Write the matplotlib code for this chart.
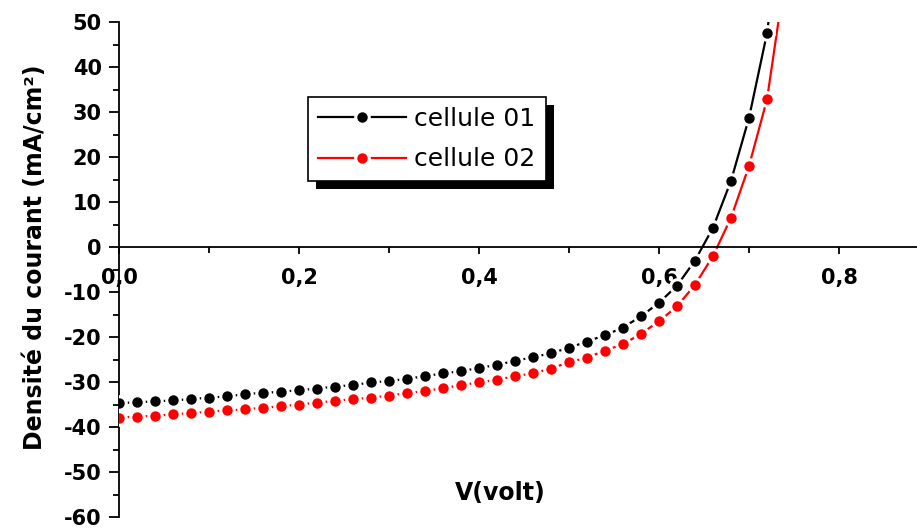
import matplotlib
matplotlib.use("Agg")
import matplotlib.pyplot as plt
from matplotlib.patches import Rectangle
from matplotlib.ticker import MultipleLocator, FuncFormatter

plt.rcParams["axes.unicode_minus"] = False

V = [0.00, 0.02, 0.04, 0.06, 0.08, 0.10, 0.12, 0.14, 0.16, 0.18,
     0.20, 0.22, 0.24, 0.26, 0.28, 0.30, 0.32, 0.34, 0.36, 0.38,
     0.40, 0.42, 0.44, 0.46, 0.48, 0.50, 0.52, 0.54, 0.56, 0.58,
     0.60, 0.62, 0.64, 0.66, 0.68, 0.70, 0.72]
J_cell01 = [-34.7, -34.5, -34.3, -34.1, -33.8, -33.5, -33.2, -32.7, -32.4, -32.2,
            -31.8, -31.5, -31.0, -30.7, -30.1, -29.8, -29.3, -28.7, -28.1, -27.6,
            -26.9, -26.2, -25.3, -24.5, -23.6, -22.4, -21.0, -19.6, -17.9, -15.4,
            -12.4, -8.6, -3.0, 4.3, 14.7, 28.7, 47.5]
J_cell02 = [-37.9, -37.7, -37.5, -37.2, -36.9, -36.6, -36.3, -36.1, -35.7, -35.4,
            -35.0, -34.6, -34.2, -33.8, -33.5, -33.0, -32.5, -32.0, -31.4, -30.7,
            -30.1, -29.5, -28.7, -28.1, -27.0, -25.6, -24.6, -23.0, -21.6, -19.3,
            -16.5, -13.2, -8.4, -2.0, 6.5, 18.0, 32.8]
# the fitted line keeps going past the last measured point
V_tail01 = [0.72, 0.726]
J_tail01 = [47.5, 57.0]
V_tail02 = [0.72, 0.74]
J_tail02 = [32.8, 60.0]

labels = ["cellule 01", "cellule 02"]
colors = ["#000000", "#ff0000"]

W, H = 917, 529
fig = plt.figure(figsize=(W / 100, H / 100), dpi=100)
ax = fig.add_axes([119 / W, 12 / H, (W - 119) / W, 495 / H])

handles = []
for vv, jj, vt, jt, c in [(V, J_cell01, V_tail01, J_tail01, colors[0]),
                          (V, J_cell02, V_tail02, J_tail02, colors[1])]:
    ax.plot(vv, jj, "-", color=c, lw=1.6, zorder=2)
    ax.plot(vt, jt, "-", color=c, lw=1.6, zorder=2)
    # white halo -> Origin-style gap of the line around each symbol
    halo, = ax.plot(vv, jj, "o", ms=12, mfc="white", mec="none", zorder=3)
    dots, = ax.plot(vv, jj, "o", ms=7.5, mfc=c, mec="none", zorder=4)
    line, = ax.plot([], [], "-", color=c, lw=1.6)
    handles.append((line, halo, dots))

ax.set_xlim(0, (W - 119) / 900)
ax.set_ylim(-60, 50)

for s in ["top", "right"]:
    ax.spines[s].set_visible(False)
ax.spines["bottom"].set_position(("data", 0))
ax.spines["left"].set_linewidth(1.3)
ax.spines["bottom"].set_linewidth(1.3)

ax.xaxis.set_major_locator(MultipleLocator(0.2))
ax.xaxis.set_minor_locator(MultipleLocator(0.1))
ax.yaxis.set_major_locator(MultipleLocator(10))
ax.yaxis.set_minor_locator(MultipleLocator(5))
ax.xaxis.set_major_formatter(FuncFormatter(lambda x, p: f"{x:.1f}".replace(".", ",")))

ax.tick_params(axis="x", which="major", direction="out", length=5, width=1.3,
               pad=10, labelsize=15)
ax.tick_params(axis="x", which="minor", direction="out", length=4, width=1.3)
ax.tick_params(axis="y", which="major", direction="out", length=7, width=1.3,
               pad=5.5, labelsize=15)
ax.tick_params(axis="y", which="minor", direction="out", length=4, width=1.3)
for t in ax.get_xticklabels() + ax.get_yticklabels():
    t.set_fontweight("bold")

ax.set_xlabel("V(volt)", fontsize=17, fontweight="bold")
ax.xaxis.set_label_coords((500 - 119) / 798, (517 - 481) / 495)
ax.set_ylabel("Densité du courant (mA/cm²)", fontsize=17, fontweight="bold")
ax.yaxis.set_label_coords((47 - 119) / 798, (517 - 257) / 495)

leg = ax.legend(handles, labels, loc="upper left",
                bbox_to_anchor=((308 - 119) / 798, (517 - 97) / 495),
                borderaxespad=0, fontsize=18, frameon=True, fancybox=False,
                framealpha=1, edgecolor="black", handlelength=3.5,
                handletextpad=0.35, labelspacing=0.65, borderpad=0.4)
leg.get_frame().set_linewidth(1.2)
leg.set_zorder(6)

# hard black drop shadow behind the legend box
fig.canvas.draw()
bb = leg.get_frame().get_window_extent()
inv = ax.transAxes.inverted()
(x0, y0), (x1, y1) = inv.transform([(bb.x0 + 8, bb.y0 - 8), (bb.x1 + 8, bb.y1 - 8)])
ax.add_patch(Rectangle((x0, y0), x1 - x0, y1 - y0, transform=ax.transAxes,
                       facecolor="black", edgecolor="none", zorder=5.5,
                       clip_on=False))

fig.savefig("out.png", dpi=100)
